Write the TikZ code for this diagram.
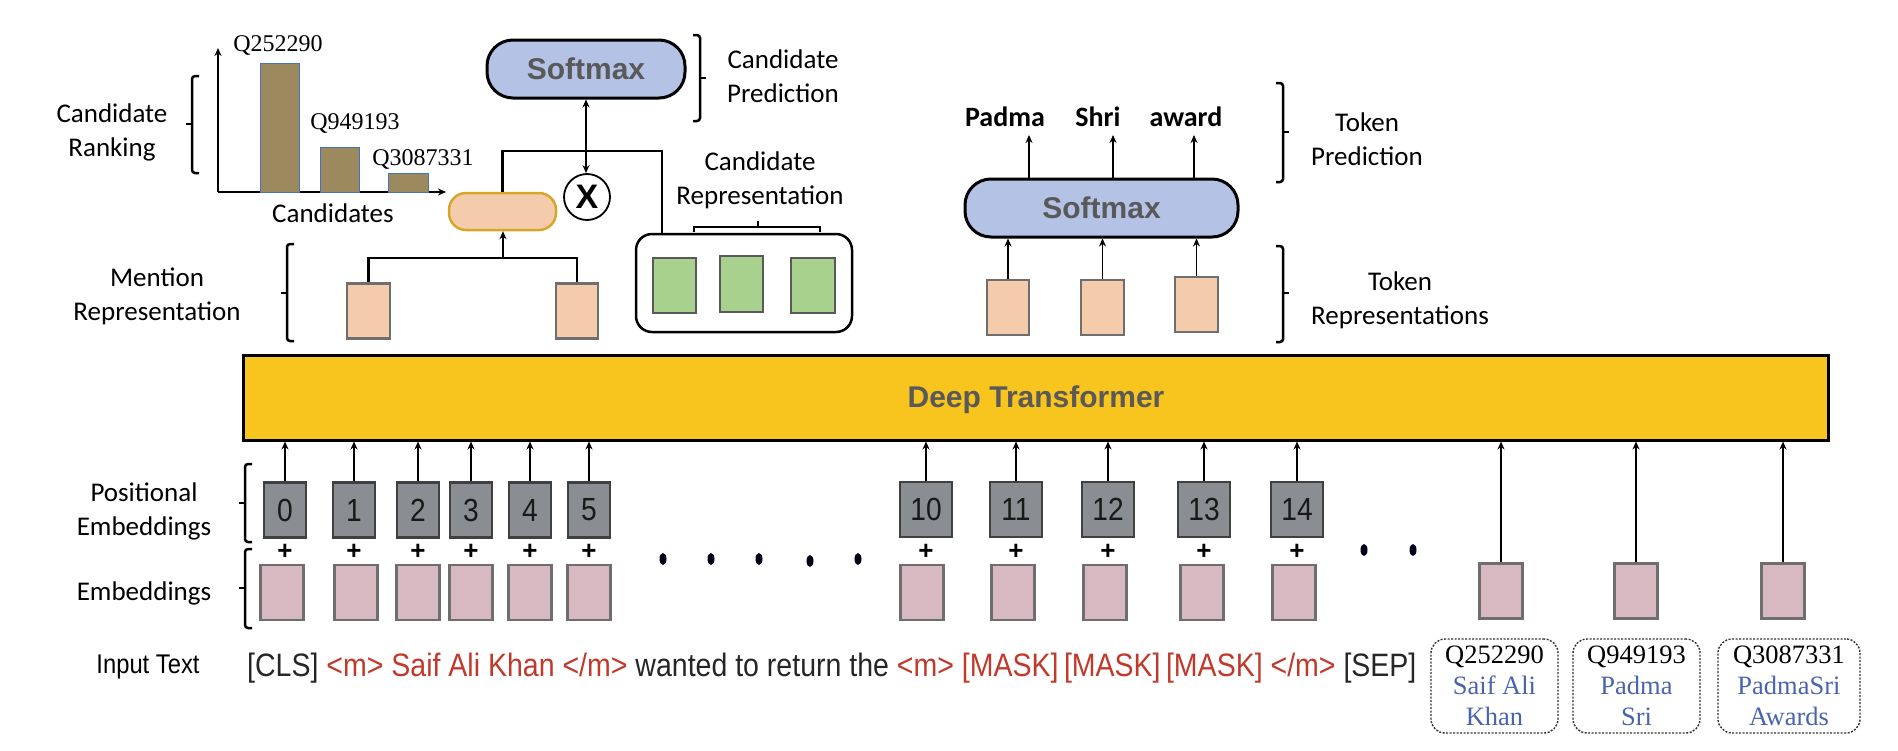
\documentclass[tikz,border=0pt]{standalone}
\usepackage{fontspec}
\usetikzlibrary{arrows.meta,calc}
\newfontfamily\carlito{Carlito}
\newfontfamily\libsans{Liberation Sans}
\newfontfamily\libsansn[FakeStretch=0.88]{Liberation Sans}
\newfontfamily\libserif{Liberation Serif}
\definecolor{smfill}{HTML}{B4C2E6}
\definecolor{smtext}{HTML}{595959}
\definecolor{peach}{HTML}{F4CCAC}
\definecolor{gold}{HTML}{D6A52A}
\definecolor{grn}{HTML}{A9D18E}
\definecolor{pinkemb}{HTML}{D9B9C1}
\definecolor{posfill}{HTML}{8A8D91}
\definecolor{tryellow}{HTML}{F8C41E}
\definecolor{barfill}{HTML}{9C8A5E}
\definecolor{barline}{HTML}{4472C4}
\definecolor{redt}{HTML}{C0392B}
\definecolor{bluet}{HTML}{4A64AC}
\definecolor{boxgray}{HTML}{6E6E6E}
\newcommand\myLbrack[4]{%
  \draw[brk] (#1+7,#2) -- (#1,#2) -- (#1,#4) -- (#1+7,#4);
  \draw[brk] (#1,#3) -- (#1-6,#3);}
\newcommand\myRbrack[4]{%
  \draw[brk] (#1-7,#2) -- (#1,#2) -- (#1,#4) -- (#1-7,#4);
  \draw[brk] (#1,#3) -- (#1+6,#3);}
\begin{document}
\begin{tikzpicture}[x=1pt,y=-1pt,
  box/.style={rectangle, line width=2.5pt, inner sep=0pt, minimum width=43pt, minimum height=55pt},
  embbox/.style={box, draw=boxgray, fill=pinkemb},
  posbox/.style={box, draw=black!75, fill=posfill, font=\libsansn\fontsize{32}{32}\selectfont, text=black!90, minimum width=42pt},
  posboxw/.style={posbox, minimum width=52pt},
  peachbox/.style={box, draw=boxgray, fill=peach},
  grnbox/.style={box, draw=black!65, fill=grn},
  softbox/.style={rectangle, rounded corners=26pt, draw=black, line width=3pt, fill=smfill, font=\libsans\bfseries\fontsize{30}{30}\selectfont, text=smtext, minimum height=58pt},
  lbl/.style={font=\carlito\fontsize{27}{34}\selectfont, align=center, inner sep=0pt},
  arr/.style={-{Stealth[length=8pt,width=7pt]}, line width=1.8pt},
  darr/.style={{Stealth[length=8pt,width=7pt]}-{Stealth[length=8pt,width=7pt]}, line width=1.8pt},
  conn/.style={line width=2.5pt},
  brk/.style={line width=2.5pt, rounded corners=3pt},
  pluss/.style={font=\libsans\bfseries\fontsize{26}{26}\selectfont, inner sep=0pt},
  qlab/.style={font=\libserif\fontsize{24}{24}\selectfont, inner sep=0pt},
  dbox/.style={rectangle, rounded corners=14pt, draw=black!80, dash pattern=on 2pt off 1.5pt, line width=1.4pt, align=center, font=\libserif\fontsize{26.5}{31}\selectfont, inner sep=0pt, minimum height=94pt},
  word/.style={font=\carlito\bfseries\fontsize{28}{28}\selectfont, inner sep=0pt},
  dotm/.style={fill=black!90!blue}
]
\useasboundingbox (0,0) rectangle (1898,750);

% ---------- candidate ranking chart ----------
\draw[arr, line width=1.5pt] (218,192) -- (218,48);
\draw[arr, line width=1.5pt] (218,192) -- (446,192);
\draw[fill=barfill, draw=barline, line width=1pt] (260,63) rectangle (299,192);
\draw[fill=barfill, draw=barline, line width=1pt] (320,147) rectangle (359,192);
\draw[fill=barfill, draw=barline, line width=1pt] (388,173) rectangle (428,192);
\node[qlab] (q1) at (278,45) {Q252290};
\node[qlab] (q2) at (355,123) {Q949193};
\node[qlab] (q3) at (423,159) {Q3087331};
\node[lbl] (cands) at (333,213) {Candidates};
\myLbrack{192}{76}{124}{173}
\node[lbl] (crank) at (112,132) {Candidate\\Ranking};

% ---------- candidate prediction ----------
\node[softbox, minimum width=198pt] (sm1) at (586,69) {Softmax};
\myRbrack{700}{35}{78}{121}
\node[lbl] (cpred) at (783,76) {Candidate\\Prediction};
\node[circle, draw, line width=1.8pt, minimum size=46pt, inner sep=0pt, font=\libsans\bfseries\fontsize{34}{34}\selectfont] (xc) at (587,197) {X};
\draw[darr] (sm1.south) -- (sm1.south |- xc.north);

% ---------- mention representation ----------
\node[rectangle, rounded corners=17pt, draw=gold, line width=2.5pt, fill=peach, minimum width=107pt, minimum height=37pt] (pill) at (502.5,211.5) {};
\node[peachbox] (m1) at (368.5,311) {};
\node[peachbox, minimum width=42pt] (m2) at (577,311) {};
\coordinate (mj) at (503,258);
\draw[conn] (m1.north) |- (mj) -| (m2.north);
\draw[arr] (mj) -- (mj |- pill.south);
\myLbrack{287}{244}{293}{341}
\node[lbl] (mrep) at (157,296) {Mention\\Representation};

% ---------- candidate representation ----------
\node[rectangle, rounded corners=16pt, draw=black, line width=2.5pt, minimum width=216pt, minimum height=98pt] (cbox) at (744,283) {};
\node[grnbox] (g1) at (674.5,285.5) {};
\node[grnbox, minimum height=56pt] (g2) at (741.5,284) {};
\node[grnbox, minimum width=44pt] (g3) at (813,285.5) {};
\coordinate (cj) at (662,151);
\draw[conn] (pill.north) |- (cj) -- (cj |- cbox.north);
\draw[line width=2.5pt] (694,232) -- (694,227) -- (820,227) -- (820,232);
\draw[line width=2.5pt] (758,227) -- (758,221);
\node[lbl] (crep) at (760,180.5) {Candidate\\Representation};

% ---------- token prediction ----------
\node[softbox, minimum width=273pt] (sm2) at (1101.5,208) {Softmax};
\node[word] (w1) at (1005,117) {Padma};
\node[word] (w2) at (1098,117) {Shri};
\node[word] (w3) at (1186,117) {award};
\coordinate (a1) at (1029,135);
\coordinate (a2) at (1113,135);
\coordinate (a3) at (1194,135);
\draw[arr] (a1 |- sm2.north) -- (a1);
\draw[arr] (a2 |- sm2.north) -- (a2);
\draw[arr] (a3 |- sm2.north) -- (a3);
\node[peachbox, minimum width=42pt] (t1) at (1008,307.5) {};
\node[peachbox] (t2) at (1102.5,307.5) {};
\node[peachbox] (t3) at (1196.5,304.5) {};
\draw[arr] (t1.north) -- (t1.north |- sm2.south);
\draw[arr] (t2.north) -- (t2.north |- sm2.south);
\draw[arr] (t3.north) -- (t3.north |- sm2.south);
\myRbrack{1283}{83}{132}{182}
\node[lbl] (tpred) at (1367,139.5) {Token\\Prediction};
\myRbrack{1283}{246}{293}{342}
\node[lbl] (trep) at (1400,300) {Token\\Representations};

% ---------- transformer ----------
\node[rectangle, draw=black, line width=3pt, fill=tryellow, minimum width=1585pt, minimum height=85pt, inner sep=0pt] (tr) at (1035.5,397.5) {};
\node[font=\libsans\bfseries\fontsize{30}{30}\selectfont, text=smtext, inner sep=0pt] (trt) at (1036,400) {Deep Transformer};

% ---------- positional embeddings ----------
\foreach \n/\x in {0/285,1/354,2/418,3/471,4/530,5/589}{
  \node[posbox] (p\n) at (\x,510) {\n};
  \draw[arr] (p\n.north) -- (p\n.north |- tr.south);
  \node[pluss] (pl\n) at (\x,552) {+};
}
\foreach \n/\x in {10/926,11/1016,12/1108,13/1204,14/1297}{
  \node[posboxw] (p\n) at (\x,509.5) {\n};
  \draw[arr] (p\n.north) -- (p\n.north |- tr.south);
  \node[pluss] (pl\n) at (\x,552) {+};
}
\myLbrack{245}{464}{503}{542}
\node[lbl] (plbl) at (144,511) {Positional\\Embeddings};

% ---------- token embeddings ----------
\foreach \n/\x in {0/282,1/356,2/418,3/471,4/530,5/589,10/922,11/1013,12/1105,13/1202,14/1294}{
  \node[embbox] (e\n) at (\x,592.5) {};
}
\foreach \n/\x in {1/1501,2/1636,3/1783}{
  \node[embbox] (ent\n) at (\x,591) {};
  \draw[arr] (ent\n.north) -- (ent\n.north |- tr.south);
}
\myLbrack{245}{549}{588}{628}
\node[lbl] (elbl) at (144,593) {Embeddings};

% ---------- dots ----------
\foreach \x/\y in {663/559,711/559,759/559,810/561,858/559,1364/550,1413/550}{
  \fill[dotm] (\x,\y) ellipse [x radius=3.5pt, y radius=6pt];
}

% ---------- input text ----------
\node[font=\libsansn\fontsize{27}{27}\selectfont, inner sep=0pt] (itl) at (148,667) {Input Text};
\node[anchor=base west, inner sep=0pt, font=\libsansn\fontsize{32.4}{33}\selectfont, text=black!85] (inp) at (247,676) {[CLS] \textcolor{redt}{<m> Saif Ali Khan </m>} wanted to return the \textcolor{redt}{<m> [MASK]\,[MASK]\,[MASK] </m>} [SEP]};

\node[dbox, minimum width=127pt] (d1) at (1494.5,686) {Q252290\\\textcolor{bluet}{Saif Ali}\\\textcolor{bluet}{Khan}};
\node[dbox, minimum width=127pt] (d2) at (1636.5,686) {Q949193\\\textcolor{bluet}{Padma}\\\textcolor{bluet}{Sri}};
\node[dbox, minimum width=142pt] (d3) at (1789,686) {Q3087331\\\textcolor{bluet}{PadmaSri}\\\textcolor{bluet}{Awards}};
\end{tikzpicture}
\end{document}
